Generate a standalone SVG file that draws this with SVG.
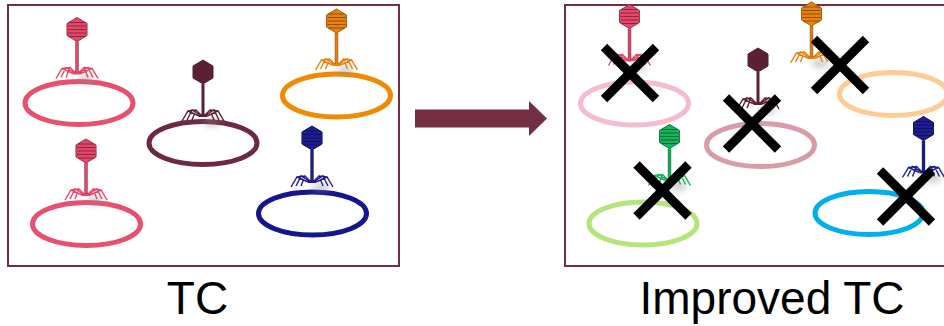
<svg xmlns="http://www.w3.org/2000/svg" width="944" height="326" viewBox="0 0 944 326">
<style>
.box{fill:none;stroke:#722E42;stroke-width:2}
.cell{fill:none;stroke-width:5}
.x{stroke:#000;stroke-width:9;stroke-linecap:butt}
.lbl{font-family:"Liberation Sans",Arial,sans-serif;font-size:46px;fill:#000;text-anchor:middle}
</style>
<defs>
<filter id="blur" x="-1" y="-1" width="3" height="3"><feGaussianBlur stdDeviation="3"/></filter>
<g id="phage">
<ellipse cx="9" cy="50" rx="9" ry="4" fill="#888" opacity="0.45" filter="url(#blur)"/>
<path d="M0,-12 L10,-6 L10,6 L0,12 L-10,6 L-10,-6 Z" fill="currentColor" stroke="currentColor" stroke-width="1"/>
<rect x="-1.5" y="12" width="3" height="31" fill="currentColor"/>
<rect x="-4" y="42" width="8" height="3" fill="currentColor"/>
<path d="M2,43 L7,38 L11,48 M3,43 L11,38 L16,48 M4,44 L15,39 L21,49 M7,38 L15,39 M-2,43 L-7,38 L-11,48 M-3,43 L-11,38 L-16,48 M-4,44 L-15,39 L-21,49 M-7,38 L-15,39" fill="none" stroke="currentColor" stroke-width="1.4"/>
</g>
<g id="stripes">
<path d="M-8,-7 H8 M-9,-3.5 H9 M-9,0 H9 M-9,3.5 H9 M-8,7 H8" stroke="#000" stroke-opacity="0.45" stroke-width="0.9"/>
<path d="M0,-12 L10,-6 L10,6 L0,12 L-10,6 L-10,-6 Z M-1.5,12 V43 M1.5,12 V43" fill="none" stroke="#000" stroke-opacity="0.35" stroke-width="0.8"/>
</g>
</defs>

<g id="tc-panel">
<rect class="box" x="8" y="5" width="391" height="261"/>
</g>
<g id="improved-panel">
<rect class="box" x="565" y="5" width="400" height="261"/>
</g>

<g id="cell-pink-1">
<ellipse class="cell" cx="79" cy="103" rx="54" ry="21.5" stroke="#E8506F"/>
<g transform="translate(77,29.5)" style="color:#E4476A"><use href="#phage"/><use href="#stripes"/></g>
</g>
<g id="cell-pink-2">
<ellipse class="cell" cx="86.5" cy="224" rx="54" ry="21.5" stroke="#E8506F"/>
<g transform="translate(86,151)" style="color:#E4476A"><use href="#phage"/><use href="#stripes"/></g>
</g>
<g id="cell-maroon">
<ellipse class="cell" cx="203" cy="143" rx="54" ry="21.5" stroke="#6E2A3C"/>
<g transform="translate(203,72)" style="color:#5A2132"><use href="#phage"/></g>
</g>
<g id="cell-orange">
<ellipse class="cell" cx="336.5" cy="95.5" rx="54" ry="21.5" stroke="#F08A00"/>
<g transform="translate(336.5,21)" style="color:#E9820A"><use href="#phage"/><use href="#stripes"/></g>
</g>
<g id="cell-blue">
<ellipse class="cell" cx="312.5" cy="213.5" rx="54" ry="21.5" stroke="#15158F"/>
<g transform="translate(312,138)" style="color:#1E1E92"><use href="#phage"/><use href="#stripes"/></g>
</g>

<g id="cell-lightpink">
<ellipse class="cell" cx="634.5" cy="103.5" rx="54" ry="21.5" stroke="#F5BCCB"/>
<g transform="translate(629.5,16.5)" style="color:#E4476A"><use href="#phage"/><use href="#stripes"/></g>
<g transform="translate(630,73)"><line class="x" x1="-26" y1="-26" x2="26" y2="26"/><line class="x" x1="26" y1="-26" x2="-26" y2="26"/></g>
</g>
<g id="cell-mauve">
<ellipse class="cell" cx="760.5" cy="145" rx="54" ry="21.5" stroke="#D89BA8"/>
<g transform="translate(758,60)" style="color:#5A2132"><use href="#phage"/></g>
<g transform="translate(752,123.5)"><line class="x" x1="-26" y1="-26" x2="26" y2="26"/><line class="x" x1="26" y1="-26" x2="-26" y2="26"/></g>
</g>
<g id="cell-lightorange">
<ellipse class="cell" cx="893.5" cy="94" rx="54" ry="21.5" stroke="#FECB94"/>
<g transform="translate(811.5,14)" style="color:#E9820A"><use href="#phage"/><use href="#stripes"/></g>
<g transform="translate(840,65)"><line class="x" x1="-26" y1="-26" x2="26" y2="26"/><line class="x" x1="26" y1="-26" x2="-26" y2="26"/></g>
</g>
<g id="cell-lightgreen">
<ellipse class="cell" cx="643" cy="223.5" rx="54" ry="21.5" stroke="#B3E57A"/>
<g transform="translate(669.5,136.5)" style="color:#12B35A"><use href="#phage"/><use href="#stripes"/></g>
<g transform="translate(662.5,190.5)"><line class="x" x1="-26" y1="-26" x2="26" y2="26"/><line class="x" x1="26" y1="-26" x2="-26" y2="26"/></g>
</g>
<g id="cell-cyan">
<ellipse class="cell" cx="869" cy="213" rx="54" ry="21.5" stroke="#00B0EE"/>
<g transform="translate(923.5,128.5)" style="color:#1E1E92"><use href="#phage"/><use href="#stripes"/></g>
<g transform="translate(906,196.5)"><line class="x" x1="-26" y1="-26" x2="26" y2="26"/><line class="x" x1="26" y1="-26" x2="-26" y2="26"/></g>
</g>

<g id="connectors">
<path d="M415,109.5 H529 V101 L547,118.5 L529,136 V127.5 H415 Z" fill="#722E42"/>
</g>

<g id="labels">
<text class="lbl" x="197.5" y="314">TC</text>
<text class="lbl" x="772" y="314">Improved TC</text>
</g>
</svg>
